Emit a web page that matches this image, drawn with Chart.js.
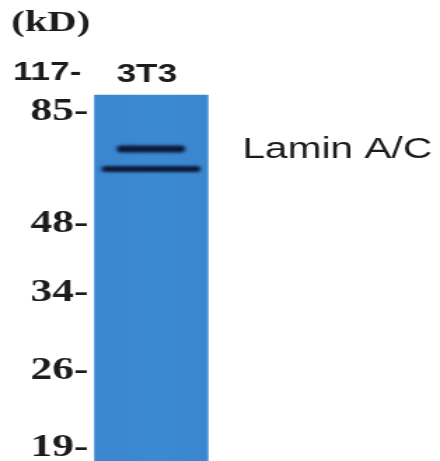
<!DOCTYPE html>
<html>
<head>
<meta charset="utf-8">
<script src="https://cdn.jsdelivr.net/npm/chart.js@4.4.1/dist/chart.umd.min.js"></script>
<style>
  html, body { margin: 0; padding: 0; background: #fff; overflow: hidden; }
  /* the scan is stretched sideways, so draw narrow and widen the whole thing */
  #wrap { width: 314px; height: 461px; transform: scaleX(1.4013); transform-origin: 0 0; }
</style>
</head>
<body>
<div id="wrap"><canvas id="blot"></canvas></div>
<script>
// marker ladder (kD) and how far each one ran down the gel
const markerKD = ['117', '85', '48', '34', '26', '19'];
const markerMigration = [73, 112, 224, 293, 371, 448];

// lanes
const lanes = ['3T3'];
const lanePos = [1];
const laneTop = 95;
const gelBottom = 461;

// detected bands (migration in the same units as the ladder)
const bands = ['Lamin A', 'Lamin C'];
const bandMigration = [149, 169];
const targetName = 'Lamin A/C';

function laneColor(c) {
  const ch = c.chart;
  if (!ch.chartArea) return '#3b88d0';
  const x = ch.scales.x;
  const l = x.getPixelForValue(lanePos[0] - 0.5);
  const r = x.getPixelForValue(lanePos[0] + 0.5);
  const g = ch.ctx.createLinearGradient(l, 0, r, 0);
  g.addColorStop(0, '#62a3e2');
  g.addColorStop(0.02, '#3a86cf');
  g.addColorStop(0.5, '#3c8ad1');
  g.addColorStop(0.98, '#3a87d0');
  g.addColorStop(1, '#559ada');
  return g;
}

// blur for the bands + the loose text on the blot
const blotText = {
  id: 'blotText',
  beforeDatasetDraw(chart, args) {
    if (args.meta.label !== 'lane') {
      chart.ctx.save();
      chart.ctx.filter = 'blur(1.8px)';
    }
  },
  afterDatasetDraw(chart, args) {
    if (args.meta.label !== 'lane') chart.ctx.restore();
  },
  afterDraw(chart) {
    const c = chart.ctx, x = chart.scales.x, y = chart.scales.y;
    c.save();
    c.fillStyle = '#1c1c1c';
    c.textBaseline = 'alphabetic';
    c.font = 'bold 29px "Liberation Serif"';
    c.fillText('(kD)', 8, 31);

    c.font = 'bold 25px "Liberation Sans"';
    c.textAlign = 'center';
    lanes.forEach((name, i) => {
      c.fillText(name, x.getPixelForValue(lanePos[i]) - 3, y.getPixelForValue(laneTop) - 13);
    });

    c.font = '29px "Liberation Sans"';
    c.textAlign = 'left';
    c.fillText(targetName, x.getPixelForValue(1.8), y.getPixelForValue(bandMigration[0]) + 9);
    c.restore();
  }
};

const datasets = [];
const bandWidths = [48, 70];
const bandHeights = [6.5, 5.5];
bands.forEach((b, i) => {
  datasets.push({
    label: b,
    data: [{ x: lanePos[0], y: [bandMigration[i] - bandHeights[i] / 2, bandMigration[i] + bandHeights[i] / 2] }],
    backgroundColor: '#0a1836',
    barThickness: bandWidths[i],
    borderRadius: 3,
    borderSkipped: false,
    grouped: false,
    borderWidth: 0,
    order: 0
  });
});
datasets.push({
  label: 'lane',
  data: lanes.map((l, i) => ({ x: lanePos[i], y: [laneTop, gelBottom] })),
  backgroundColor: laneColor,
  barThickness: 81.5,
  grouped: false,
  borderWidth: 0,
  order: 1
});

new Chart(document.getElementById('blot'), {
  type: 'bar',
  data: { datasets: datasets },
  options: {
    responsive: true,
    maintainAspectRatio: false,
    animation: false,
    layout: { padding: 0 },
    plugins: { legend: { display: false }, tooltip: { enabled: false } },
    scales: {
      x: {
        type: 'linear',
        offset: false,
        min: 0.5,
        max: 3.53,
        display: false
      },
      y: {
        type: 'linear',
        reverse: true,
        min: 0,
        max: gelBottom,
        grid: { display: false, drawTicks: false },
        border: { display: false },
        afterBuildTicks: s => { s.ticks = markerMigration.map(v => ({ value: v })); },
        afterFit: s => { s.width = 67; s.paddingTop = 0; s.paddingBottom = 0; },
        ticks: {
          padding: 4,
          color: '#1c1c1c',
          callback: (v, i) => i === 0 ? markerKD[i] + '-\u2009' : markerKD[i] + '-',
          font: c => c.index === 0
            ? { family: '"Liberation Sans"', weight: 'bold', size: 25 }
            : { family: '"Liberation Serif"', weight: 'bold', size: 31 }
        }
      }
    }
  },
  plugins: [blotText]
});
</script>
</body>
</html>
